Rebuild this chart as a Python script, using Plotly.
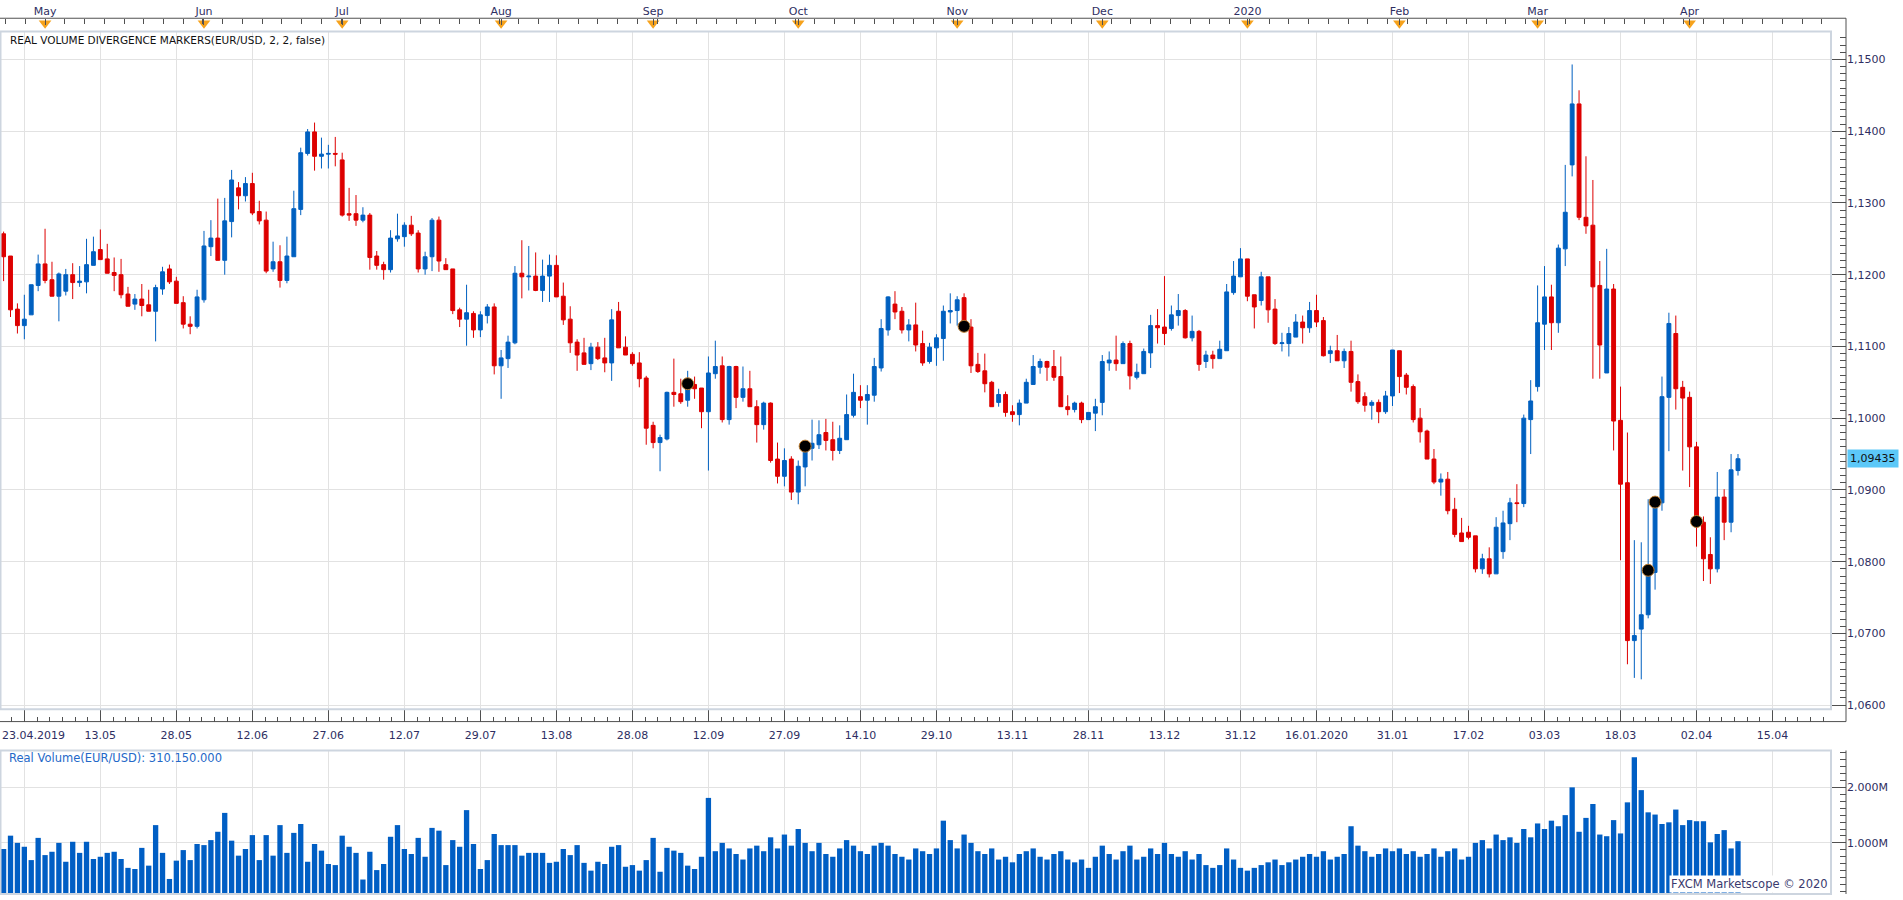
import plotly.graph_objects as go

# ---------------- data ----------------
opens = [
 1.1257,1.1226,1.1152,1.1129,1.1144,1.1185,1.1215,1.1193,1.1170,1.1177,
 1.1200,1.1189,1.1190,1.1213,1.1235,1.1222,1.1203,1.1200,1.1173,1.1159,
 1.1166,1.1158,1.1149,1.1180,1.1208,1.1191,1.1161,1.1131,1.1128,1.1165,
 1.1239,1.1251,1.1220,1.1274,1.1321,1.1310,1.1327,1.1288,1.1276,1.1208,
 1.1218,1.1192,1.1225,1.1291,1.1369,1.1399,1.1365,1.1368,1.1369,1.1360,
 1.1285,1.1285,1.1276,1.1283,1.1226,1.1214,1.1207,1.1250,1.1253,1.1269,
 1.1258,1.1208,1.1225,1.1276,1.1214,1.1208,1.1151,1.1138,1.1146,1.1123,
 1.1143,1.1155,1.1073,1.1083,1.1105,1.1202,1.1197,1.1198,1.1178,1.1198,
 1.1213,1.1170,1.1138,1.1106,1.1091,1.1076,1.1099,1.1084,1.1077,1.1149,
 1.1099,1.1089,1.1077,1.1056,1.0990,1.0966,1.0971,1.1036,1.1034,1.1025,
 1.1047,1.1042,1.1009,1.1062,1.1073,1.0998,1.1072,1.1029,1.1041,1.1016,
 1.0991,1.1021,1.0943,1.0919,1.0943,1.0897,1.0932,1.0958,1.0963,1.0980,
 1.0970,1.0955,1.0970,1.1004,1.1030,1.1025,1.1032,1.1070,1.1123,1.1159,
 1.1149,1.1123,1.1130,1.1104,1.1079,1.1098,1.1111,1.1148,1.1150,1.1168,
 1.1127,1.1075,1.1066,1.1050,1.1022,1.1033,1.1009,1.1005,1.1021,1.1047,
 1.1071,1.1079,1.1072,1.1058,1.1016,1.1012,1.1021,1.0998,1.1007,1.1022,
 1.1077,1.1081,1.1076,1.1104,1.1057,1.1062,1.1091,1.1129,1.1127,1.1125,
 1.1143,1.1150,1.1112,1.1121,1.1079,1.1088,1.1083,1.1094,1.1175,1.1197,
 1.1222,1.1172,1.1164,1.1197,1.1152,1.1104,1.1104,1.1113,1.1134,1.1126,
 1.1150,1.1136,1.1090,1.1094,1.1080,1.1093,1.1051,1.1030,1.1018,1.1022,
 1.1009,1.1031,1.1094,1.1060,1.1044,1.1000,1.0982,1.0943,1.0911,1.0915,
 1.0873,1.0840,1.0841,1.0836,1.0790,1.0804,1.0783,1.0814,1.0853,1.0882,
 1.0881,1.0998,1.1044,1.1131,1.1169,1.1133,1.1236,1.1353,1.1438,1.1280,
 1.1269,1.1185,1.1063,1.1180,1.0997,1.0910,1.0690,1.0706,1.0726,1.0785,
 1.0882,1.1029,1.1118,1.1043,1.1029,1.0960,1.0855,1.0810,1.0790,1.0890,
 1.0855,1.0927]

highs = [
 1.1260,1.1226,1.1160,1.1172,1.1186,1.1228,1.1264,1.1218,1.1203,1.1208,
 1.1216,1.1212,1.1250,1.1253,1.1263,1.1243,1.1224,1.1222,1.1183,1.1173,
 1.1187,1.1179,1.1186,1.1211,1.1214,1.1197,1.1170,1.1142,1.1179,1.1261,
 1.1276,1.1306,1.1307,1.1346,1.1329,1.1336,1.1342,1.1303,1.1288,1.1246,
 1.1241,1.1253,1.1317,1.1377,1.1403,1.1412,1.1391,1.1381,1.1392,1.1370,
 1.1321,1.1311,1.1294,1.1286,1.1233,1.1218,1.1262,1.1285,1.1273,1.1282,
 1.1262,1.1232,1.1279,1.1281,1.1223,1.1208,1.1154,1.1186,1.1149,1.1149,
 1.1159,1.1160,1.1095,1.1115,1.1212,1.1248,1.1240,1.1231,1.1221,1.1228,
 1.1227,1.1189,1.1156,1.1110,1.1112,1.1105,1.1106,1.1112,1.1152,1.1162,
 1.1114,1.1092,1.1092,1.1059,1.0995,1.0977,1.1037,1.1083,1.1055,1.1066,
 1.1058,1.1042,1.1086,1.1108,1.1086,1.1073,1.1073,1.1072,1.1066,1.1025,
 1.1023,1.1022,1.0966,1.0958,1.0947,1.0941,1.0961,1.0998,1.0997,1.0999,
 1.0995,1.0990,1.1033,1.1062,1.1046,1.1046,1.1084,1.1138,1.1170,1.1177,
 1.1155,1.1138,1.1161,1.1122,1.1105,1.1117,1.1157,1.1174,1.1170,1.1174,
 1.1138,1.1091,1.1090,1.1052,1.1041,1.1037,1.1018,1.1026,1.1055,1.1088,
 1.1083,1.1080,1.1095,1.1086,1.1032,1.1023,1.1023,1.1008,1.1027,1.1088,
 1.1093,1.1115,1.1107,1.1108,1.1076,1.1097,1.1144,1.1152,1.1198,1.1157,
 1.1173,1.1152,1.1143,1.1123,1.1094,1.1094,1.1108,1.1187,1.1219,1.1237,
 1.1222,1.1172,1.1204,1.1197,1.1166,1.1119,1.1127,1.1145,1.1143,1.1162,
 1.1172,1.1141,1.1101,1.1116,1.1097,1.1108,1.1061,1.1036,1.1025,1.1026,
 1.1038,1.1095,1.1094,1.1063,1.1047,1.1014,1.0984,1.0957,1.0923,1.0925,
 1.0889,1.0861,1.0850,1.0836,1.0811,1.0820,1.0862,1.0871,1.0889,1.0908,
 1.1005,1.1053,1.1185,1.1212,1.1186,1.1242,1.1353,1.1493,1.1457,1.1365,
 1.1332,1.1219,1.1236,1.1187,1.1044,1.0980,1.0830,1.0827,1.0887,1.0887,
 1.1058,1.1147,1.1143,1.1052,1.1037,1.0967,1.0863,1.0834,1.0925,1.0901,
 1.0950,1.0950]

lows = [
 1.1191,1.1141,1.1118,1.1110,1.1144,1.1177,1.1188,1.1170,1.1135,1.1171,
 1.1166,1.1183,1.1174,1.1213,1.1221,1.1202,1.1177,1.1167,1.1156,1.1151,
 1.1142,1.1149,1.1107,1.1172,1.1187,1.1160,1.1125,1.1117,1.1125,1.1161,
 1.1226,1.1220,1.1200,1.1252,1.1291,1.1302,1.1283,1.1270,1.1202,1.1204,
 1.1182,1.1188,1.1225,1.1283,1.1366,1.1345,1.1348,1.1348,1.1351,1.1281,
 1.1275,1.1268,1.1273,1.1207,1.1207,1.1193,1.1203,1.1246,1.1239,1.1254,
 1.1203,1.1200,1.1205,1.1204,1.1207,1.1145,1.1127,1.1101,1.1112,1.1113,
 1.1132,1.1061,1.1027,1.1070,1.1103,1.1167,1.1178,1.1177,1.1162,1.1162,
 1.1169,1.1130,1.1091,1.1066,1.1075,1.1067,1.1081,1.1064,1.1052,1.1098,
 1.1088,1.1073,1.1043,1.0963,1.0958,1.0926,1.0969,1.1016,1.1020,1.1016,
 1.1027,1.0986,1.0927,1.1055,1.0994,1.0991,1.1014,1.1023,1.1016,1.0966,
 1.0984,1.0938,1.0909,1.0905,1.0886,1.0880,1.0905,1.0941,1.0957,1.0955,
 1.0941,1.0950,1.0970,1.1001,1.1014,1.0991,1.1023,1.1065,1.1115,1.1138,
 1.1118,1.1107,1.1093,1.1073,1.1076,1.1073,1.1080,1.1132,1.1129,1.1122,
 1.1063,1.1063,1.1036,1.1016,1.1016,1.1002,1.0995,1.0990,1.1021,1.1047,
 1.1062,1.1052,1.1052,1.1016,1.1004,1.1008,1.0993,1.0998,1.0982,1.1004,
 1.1066,1.1066,1.1076,1.1040,1.1054,1.1062,1.1070,1.1104,1.1102,1.1122,
 1.1129,1.1111,1.1107,1.1066,1.1070,1.1069,1.1083,1.1094,1.1172,1.1197,
 1.1163,1.1125,1.1157,1.1133,1.1102,1.1093,1.1086,1.1113,1.1104,1.1119,
 1.1127,1.1086,1.1077,1.1080,1.1070,1.1037,1.1020,1.1009,1.0998,1.0993,
 1.1006,1.1017,1.1035,1.1033,1.0994,1.0966,1.0943,1.0908,1.0892,1.0866,
 1.0834,1.0828,1.0831,1.0785,1.0783,1.0778,1.0783,1.0804,1.0830,1.0855,
 1.0876,1.0950,1.1037,1.1095,1.1095,1.1119,1.1212,1.1337,1.1276,1.1257,
 1.1055,1.1055,1.1063,1.0955,1.0802,1.0657,1.0638,1.0636,1.0721,1.0761,
 1.0871,1.0954,1.1012,1.0927,1.0904,1.0821,1.0773,1.0769,1.0785,1.0830,
 1.0841,1.0920]

closes = [
 1.1225,1.1151,1.1129,1.1138,1.1186,1.1215,1.1192,1.1170,1.1201,1.1200,
 1.1189,1.1191,1.1214,1.1232,1.1221,1.1202,1.1199,1.1172,1.1156,1.1166,
 1.1157,1.1149,1.1182,1.1204,1.1190,1.1160,1.1131,1.1128,1.1169,1.1240,
 1.1251,1.1220,1.1275,1.1332,1.1310,1.1327,1.1286,1.1275,1.1205,1.1218,
 1.1192,1.1226,1.1292,1.1370,1.1399,1.1365,1.1368,1.1369,1.1368,1.1283,
 1.1283,1.1276,1.1283,1.1224,1.1213,1.1207,1.1251,1.1254,1.1269,1.1257,
 1.1208,1.1225,1.1276,1.1219,1.1207,1.1150,1.1138,1.1147,1.1123,1.1144,
 1.1155,1.1073,1.1084,1.1106,1.1202,1.1197,1.1198,1.1178,1.1198,1.1213,
 1.1169,1.1137,1.1105,1.1088,1.1075,1.1099,1.1083,1.1077,1.1137,1.1098,
 1.1088,1.1076,1.1055,1.0986,1.0966,1.0973,1.1036,1.1033,1.1023,1.1044,
 1.1041,1.1009,1.1063,1.1072,1.0998,1.1072,1.1029,1.1041,1.1016,1.0991,
 1.1021,1.0941,1.0919,1.0941,1.0897,1.0933,1.0961,1.0965,1.0977,1.0969,
 1.0955,1.0972,1.1005,1.1036,1.1025,1.1033,1.1072,1.1125,1.1169,1.1148,
 1.1123,1.1130,1.1102,1.1077,1.1099,1.1112,1.1149,1.1150,1.1165,1.1128,
 1.1073,1.1065,1.1048,1.1016,1.1033,1.1008,1.1005,1.1021,1.1050,1.1072,
 1.1079,1.1071,1.1057,1.1016,1.1012,1.1021,1.0998,1.1008,1.1016,1.1079,
 1.1081,1.1076,1.1104,1.1059,1.1064,1.1093,1.1129,1.1126,1.1118,1.1144,
 1.1150,1.1112,1.1121,1.1075,1.1088,1.1083,1.1096,1.1176,1.1198,1.1222,
 1.1170,1.1155,1.1197,1.1151,1.1104,1.1105,1.1118,1.1134,1.1126,1.1150,
 1.1134,1.1087,1.1094,1.1080,1.1093,1.1050,1.1023,1.1018,1.1022,1.1009,
 1.1031,1.1095,1.1058,1.1043,1.0998,1.0981,1.0943,1.0911,1.0915,1.0871,
 1.0838,1.0828,1.0834,1.0790,1.0804,1.0783,1.0848,1.0854,1.0882,1.0881,
 1.1000,1.1024,1.1133,1.1169,1.1133,1.1237,1.1287,1.1438,1.1280,1.1268,
 1.1183,1.1102,1.1180,1.0996,1.0908,1.0690,1.0697,1.0726,1.0788,1.0883,
 1.1030,1.1132,1.1041,1.1028,1.0960,1.0856,1.0804,1.0790,1.0890,1.0855,
 1.0928,1.09435]

volume_millions = [
 0.89,1.13,1.00,0.93,0.69,1.09,0.78,0.84,1.00,0.66,
 1.02,0.82,1.02,0.71,0.75,0.82,0.84,0.71,0.55,0.53,
 0.91,0.59,1.32,0.82,0.35,0.68,0.87,0.69,0.98,0.96,
 1.05,1.20,1.54,1.04,0.77,0.89,1.14,0.69,1.14,0.77,
 1.32,0.82,1.18,1.34,0.66,0.98,0.86,0.62,0.60,1.13,
 0.93,0.82,0.34,0.84,0.51,0.62,1.11,1.32,0.89,0.80,
 1.09,0.75,1.27,1.22,0.60,1.05,0.93,1.59,0.98,0.53,
 0.69,1.16,0.96,0.96,0.96,0.77,0.82,0.82,0.82,0.64,
 0.66,0.89,0.78,0.96,0.64,0.50,0.66,0.62,0.93,0.96,
 0.57,0.60,0.50,0.69,1.09,0.48,0.91,0.86,0.82,0.59,
 0.53,0.75,1.81,0.85,1.00,0.90,0.80,0.70,0.90,0.95,
 0.85,1.10,0.90,1.15,0.95,1.25,1.00,0.85,1.00,0.80,
 0.75,0.90,1.05,0.95,0.85,0.80,0.95,1.00,0.95,0.80,
 0.75,0.70,0.90,0.85,0.80,0.90,1.40,1.05,0.90,1.15,
 1.00,0.85,0.80,0.90,0.70,0.75,0.65,0.80,0.85,0.90,
 0.75,0.70,0.80,0.85,0.70,0.65,0.70,0.55,0.75,0.95,
 0.80,0.70,0.85,0.95,0.70,0.75,0.90,0.80,1.00,0.80,
 0.75,0.85,0.70,0.80,0.60,0.55,0.60,0.90,0.70,0.55,
 0.50,0.55,0.60,0.65,0.70,0.60,0.65,0.70,0.75,0.80,
 0.75,0.85,0.70,0.75,0.80,1.30,0.95,0.85,0.75,0.80,
 0.90,0.85,0.90,0.80,0.85,0.75,0.80,0.90,0.75,0.85,
 0.90,0.70,0.75,1.00,1.05,0.90,1.15,1.05,1.10,1.00,
 1.25,1.10,1.35,1.25,1.40,1.30,1.50,2.00,1.20,1.45,
 1.70,1.15,1.12,1.41,1.17,1.73,2.54,1.95,1.55,1.51,
 1.34,1.37,1.60,1.32,1.41,1.39,1.39,1.01,1.16,1.23,
 0.90,1.03]

marker_bars = [99, 116, 139, 238, 239, 245]
marker_prices = [1.1048, 1.0961, 1.1128, 1.0788, 1.0883, 1.0856]

date_tick_bars = [3, 14, 25, 36, 47, 58, 69, 80, 91, 102, 113, 124, 135, 146,
                  157, 168, 179, 190, 201, 212, 223, 234, 245, 256]
date_tick_labels = ["", "13.05", "28.05", "12.06", "27.06", "12.07",
                    "29.07", "13.08", "28.08", "12.09", "27.09", "14.10", "29.10",
                    "13.11", "28.11", "13.12", "31.12", "16.01.2020", "31.01",
                    "17.02", "03.03", "18.03", "02.04", "15.04"]
first_date_label = "23.04.2019"
month_bars = [6, 29, 49, 72, 94, 115, 138, 159, 180, 202, 222, 244]
month_labels = ["May", "Jun", "Jul", "Aug", "Sep", "Oct", "Nov", "Dec",
                "2020", "Feb", "Mar", "Apr"]

# ---------------- styling / layout ----------------
W, H = 1903, 900
BLUE = "#0060C0"
RED = "#DD0000"
GRID = "#E2E2E2"
FRAME = "#CDD5DF"
AXIS = "#505050"
TXT = "#2E2E62"
FONT = "DejaVu Sans"

def fx(px):
    return px / W

def fy(px):
    return 1 - px / H

n = len(closes)
bars = list(range(n))
volumes = [v * 1e6 for v in volume_millions]

x_dom = [0, fx(1831)]
x_rng = [-0.521, 264.46]

fig = go.Figure()

fig.add_trace(go.Candlestick(
    x=bars, open=opens, high=highs, low=lows, close=closes,
    increasing=dict(line=dict(color=BLUE, width=1), fillcolor=BLUE),
    decreasing=dict(line=dict(color=RED, width=1), fillcolor=RED),
    whiskerwidth=0, xaxis="x", yaxis="y", showlegend=False, hoverinfo="skip"))

fig.add_trace(go.Scatter(
    x=marker_bars, y=marker_prices, mode="markers",
    marker=dict(color="black", size=12, line=dict(color="#B8792E", width=1)),
    xaxis="x", yaxis="y", showlegend=False, hoverinfo="skip"))

fig.add_trace(go.Scatter(
    x=month_bars, y=[0.62] * len(month_bars), mode="markers",
    marker=dict(symbol="triangle-down", color="#F6A21C", size=11,
                line=dict(width=0)),
    xaxis="x2", yaxis="y3", showlegend=False, hoverinfo="skip", cliponaxis=False))

fig.add_trace(go.Bar(
    x=bars, y=volumes, width=0.77, marker=dict(color="#005EC4", line=dict(width=0)),
    xaxis="x3", yaxis="y2", showlegend=False, hoverinfo="skip"))

tickfont = dict(family=FONT, size=11, color=TXT)

fig.update_layout(
    width=W, height=H,
    margin=dict(l=0, r=0, t=0, b=0),
    paper_bgcolor="white", plot_bgcolor="white",
    separators=",.",
    boxgap=0.2,
    showlegend=False,
    xaxis=dict(
        domain=x_dom, range=x_rng, anchor="free", position=fy(724), side="bottom",
        showline=False, zeroline=False,
        tickmode="array", tickvals=date_tick_bars, ticktext=date_tick_labels,
        ticks="inside", ticklen=12, tickcolor=AXIS, tickwidth=1,
        tickfont=tickfont, ticklabelstandoff=5,
        showgrid=True, gridcolor=GRID, gridwidth=1,
        minor=dict(tick0=3, dtick=11 / 6, ticks="inside", ticklen=5,
                   tickcolor=AXIS, showgrid=False),
        rangeslider=dict(visible=False), fixedrange=True),
    xaxis2=dict(
        domain=x_dom, range=x_rng, matches="x", anchor="free",
        position=fy(18.3), side="top", showline=False, zeroline=False,
        tickmode="array", tickvals=month_bars, ticktext=month_labels,
        ticks="inside", ticklen=6, tickcolor=AXIS, tickfont=tickfont,
        ticklabelstandoff=1, showgrid=False,
        minor=dict(tick0=6, dtick=2.857, ticks="inside", ticklen=5,
                   tickcolor=AXIS, showgrid=False)),
    xaxis3=dict(
        domain=x_dom, range=x_rng, matches="x", anchor="y2",
        showticklabels=False, ticks="", showline=False, zeroline=False,
        tickmode="array", tickvals=date_tick_bars,
        showgrid=True, gridcolor=GRID, gridwidth=1),
    yaxis=dict(
        domain=[fy(711.7), fy(31.7)], range=[1.05942, 1.15388],
        anchor="free", position=fx(1846), side="right",
        showline=False, zeroline=False,
        tickmode="linear", tick0=1.06, dtick=0.01, tickformat=".4f",
        ticks="inside", ticklen=15, tickcolor=AXIS, tickfont=tickfont,
        showgrid=True, gridcolor=GRID, gridwidth=1,
        minor=dict(tick0=1.06, dtick=0.001, ticks="inside", ticklen=6,
                   tickcolor=AXIS, showgrid=False)),
    yaxis2=dict(
        domain=[fy(897), fy(753)], range=[0.079e6, 2.664e6],
        anchor="free", position=fx(1846), side="right",
        showline=False, zeroline=False,
        tickmode="array", tickvals=[1e6, 2e6], ticktext=["1.000M", "2.000M"],
        ticks="inside", ticklen=15, tickcolor=AXIS, tickfont=tickfont,
        showgrid=True, gridcolor=GRID, gridwidth=1,
        minor=dict(tick0=0, dtick=125000, ticks="inside", ticklen=6,
                   tickcolor=AXIS, showgrid=False)),
    yaxis3=dict(
        domain=[fy(31.7), fy(18.3)], range=[0, 1], anchor="x2",
        visible=False, fixedrange=True),
)

# frames and axis lines
shapes = [
    dict(type="rect", xref="paper", yref="paper", x0=fx(0.5), x1=fx(1831),
         y0=fy(711.7), y1=fy(31.7), line=dict(color=FRAME, width=2)),
    dict(type="rect", xref="paper", yref="paper", x0=fx(0.5), x1=fx(1831),
         y0=fy(897), y1=fy(753), line=dict(color=FRAME, width=2)),
    dict(type="line", xref="paper", yref="paper", x0=0, x1=fx(1846),
         y0=fy(18.3), y1=fy(18.3), line=dict(color=AXIS, width=1)),
    dict(type="line", xref="paper", yref="paper", x0=0, x1=fx(1846),
         y0=fy(724), y1=fy(724), line=dict(color=AXIS, width=1)),
    dict(type="line", xref="paper", yref="paper", x0=fx(1846), x1=fx(1846),
         y0=fy(724), y1=fy(18.3), line=dict(color=AXIS, width=1)),
    dict(type="line", xref="paper", yref="paper", x0=fx(1846), x1=fx(1846),
         y0=fy(897), y1=fy(753), line=dict(color=AXIS, width=1)),
]
fig.update_layout(shapes=shapes)

last_txt = f"{closes[-1]:.5f}".replace(".", ",")
annotations = [
    dict(text="REAL VOLUME DIVERGENCE MARKERS(EUR/USD, 2, 2, false)",
         xref="paper", yref="paper", x=fx(8), y=fy(40), xanchor="left",
         yanchor="middle", showarrow=False,
         font=dict(family=FONT, size=10.5, color="#111111")),
    dict(text="Real Volume(EUR/USD): 310.150.000",
         xref="paper", yref="paper", x=fx(7), y=fy(761), xanchor="left",
         yanchor="middle", showarrow=False,
         font=dict(family=FONT, size=11.5, color="#2468C8")),
    dict(text="FXCM Marketscope © 2020",
         xref="paper", yref="paper", x=fx(1830), y=fy(896), xanchor="right",
         yanchor="bottom", showarrow=False, bgcolor="white", borderpad=1,
         font=dict(family=FONT, size=11.5, color="#3A3A6E")),
    dict(text=last_txt, xref="paper", yref="y", x=fx(1847), y=closes[-1],
         xanchor="left", yanchor="middle", showarrow=False,
         bgcolor="#5CC8F8", borderpad=2,
         font=dict(family=FONT, size=11, color="#111111")),
    dict(text=first_date_label, xref="paper", yref="paper", x=fx(0), y=fy(738),
         xanchor="left", yanchor="middle", showarrow=False,
         font=tickfont),
]
fig.update_layout(annotations=annotations)

fig.write_html("out.html")
